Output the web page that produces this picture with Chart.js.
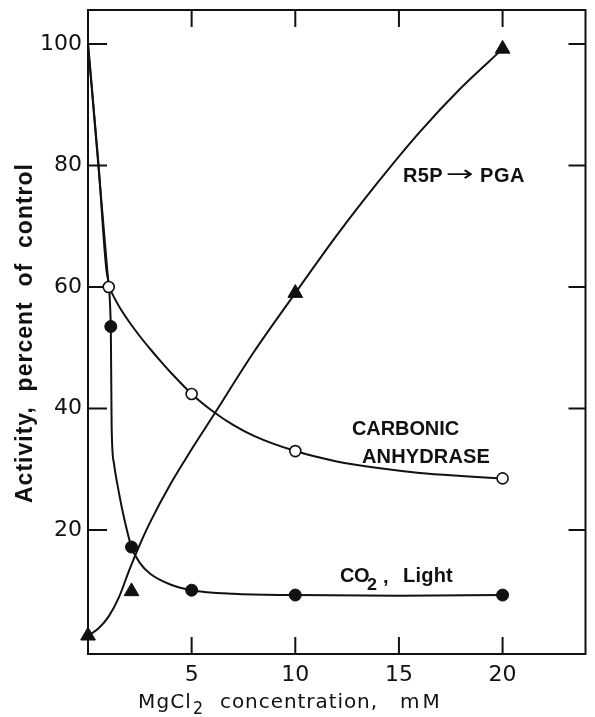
<!DOCTYPE html>
<html><head><meta charset="utf-8">
<script src="https://cdn.jsdelivr.net/npm/chart.js@4.4.1/dist/chart.umd.min.js"></script>
<style>html,body{margin:0;padding:0;background:#fff}#wrap{width:595px;height:717px}</style>
</head><body><div id="wrap"><canvas id="c" width="595" height="717"></canvas></div>
<script>
// ---- data ----
const xTicks = [5, 10, 15, 20];
const yTicks = [20, 40, 60, 80, 100];

// measured points (markers)
const caX  = [1, 5, 10, 20];          // carbonic anhydrase, open circles
const caY  = [60, 42.4, 33, 28.5];
const co2X = [1.1, 2.1, 5, 10, 20];   // CO2, light, filled circles
const co2Y = [53.5, 17.2, 10.1, 9.3, 9.3];
const r5pX = [0, 2.1, 10, 20];        // R5P -> PGA, triangles
const r5pY = [2.6, 9.9, 59, 99.2];

// drawn curves
const caTopX    = [0, 1];
const caTopY    = [100, 60];
const caCurveX  = [1, 1.5, 2, 2.5, 3, 3.5, 4, 5, 6, 7, 8, 10, 12, 14, 16, 18, 20];
const caCurveY  = [60, 56.8, 54.2, 51.9, 49.8, 47.8, 45.9, 42.4, 39.6, 37.3, 35.5, 33, 31.3, 30.2, 29.4, 28.9, 28.5];
const co2CurveX = [0, 0.5, 0.9, 1.1, 1.14, 1.25, 1.5, 1.7, 2.1, 2.5, 3, 4, 5, 7, 10, 15, 20];
const co2CurveY = [100, 80.5, 62.5, 53.5, 37, 31, 26, 22.6, 17.2, 14.6, 12.8, 11, 10.1, 9.5, 9.3, 9.2, 9.3];
const r5pCurveX = [0, 0.5, 1, 1.5, 2, 2.5, 3, 4, 5, 6, 8, 10, 12, 14, 16, 18, 20];
const r5pCurveY = [2.6, 3.8, 5.8, 9.0, 13.5, 17.6, 21.3, 27.7, 33.3, 38.6, 49.3, 59, 68.5, 77.3, 85.5, 92.8, 99.2];

// ---- chart ----
const black = '#111';
const pts = (xs, ys) => xs.map((x, i) => ({x, y: ys[i]}));
const curve = (xs, ys) => ({type: 'line', data: pts(xs, ys), borderColor: black, borderWidth: 2,
  pointRadius: 0, cubicInterpolationMode: 'monotone', fill: false, order: 2, clip: false});

function txt(ctx, s, x, y, font, w, align) {
  ctx.save();
  ctx.font = font; ctx.fillStyle = black;
  ctx.textAlign = align || 'left'; ctx.textBaseline = 'alphabetic';
  if ('letterSpacing' in ctx) ctx.letterSpacing = '0px';
  const m = ctx.measureText(s).width;
  if (w && 'letterSpacing' in ctx && s.length > 1) ctx.letterSpacing = ((w - m) / s.length) + 'px';
  if (w && s.length === 1) { ctx.translate(x, y); ctx.scale(w / m, 1); ctx.fillText(s, 0, 0); }
  else ctx.fillText(s, x, y);
  ctx.restore();
}

const frame = {
  id: 'frame',
  beforeDatasetsDraw(chart) {
    const {ctx, chartArea: a, scales: {x, y}} = chart;
    ctx.save();
    ctx.strokeStyle = black; ctx.lineWidth = 2;
    ctx.strokeRect(a.left, a.top, a.right - a.left, a.bottom - a.top);
    ctx.beginPath();
    yTicks.forEach(v => { const p = y.getPixelForValue(v);
      ctx.moveTo(a.left, p); ctx.lineTo(a.left + 19, p);
      ctx.moveTo(a.right, p); ctx.lineTo(a.right - 17, p); });
    xTicks.forEach(v => { const p = x.getPixelForValue(v);
      ctx.moveTo(p, a.bottom); ctx.lineTo(p, a.bottom - 17);
      ctx.moveTo(p, a.top); ctx.lineTo(p, a.top + 17); });
    ctx.stroke();
    ctx.restore();
  },
  afterDraw(chart) {
    const ctx = chart.ctx;
    const bold = "bold 20px 'Liberation Sans', Arial, sans-serif";
    // y title
    ctx.save();
    ctx.translate(26, 333); ctx.rotate(-Math.PI / 2);
    ctx.font = "bold 23px 'Liberation Sans', Arial, sans-serif";
    ctx.fillStyle = black; ctx.textAlign = 'center'; ctx.textBaseline = 'middle';
    const yt = 'Activity,  percent  of  control';
    if ('letterSpacing' in ctx) ctx.letterSpacing = '0px';
    const m = ctx.measureText(yt).width;
    if ('letterSpacing' in ctx) ctx.letterSpacing = ((340 - m) / yt.length) + 'px';
    ctx.fillText(yt, 0, 0);
    ctx.restore();
    // x title
    const reg = "20px 'DejaVu Sans', sans-serif";
    txt(ctx, 'MgCl', 138, 708, reg, 54);
    txt(ctx, '2', 193, 714, "17px 'DejaVu Sans', sans-serif", 10);
    txt(ctx, 'concentration,', 220, 708, reg, 158);
    txt(ctx, 'mM', 400, 708, reg, 43);
    // annotations
    txt(ctx, 'R5P', 403, 182, bold, 40);
    txt(ctx, '\u2192', 446, 181, "22px 'DejaVu Sans', sans-serif", 28);
    txt(ctx, 'PGA', 480, 182, bold, 45);
    txt(ctx, 'CARBONIC', 352, 435, bold, 107);
    txt(ctx, 'ANHYDRASE', 362, 463, bold, 128);
    txt(ctx, 'CO', 340, 582, bold, 29);
    txt(ctx, '2', 367, 590, "bold 17px 'Liberation Sans', Arial, sans-serif", 10);
    txt(ctx, ',', 383, 583, bold);
    txt(ctx, 'Light', 403, 582, bold, 50);
  }
};

new Chart(document.getElementById('c'), {
  data: {
    datasets: [
      {type: 'scatter', data: pts(caX, caY), pointStyle: 'circle', pointRadius: 5.5,
        pointBackgroundColor: '#fff', pointBorderColor: black, pointBorderWidth: 1.6, order: 0, clip: false},
      {type: 'scatter', data: pts(co2X, co2Y), pointStyle: 'circle', pointRadius: 6,
        pointBackgroundColor: black, pointBorderColor: black, pointBorderWidth: 1, order: 0, clip: false},
      {type: 'scatter', data: pts(r5pX, r5pY), pointStyle: 'triangle', pointRadius: 8.5,
        pointBackgroundColor: black, pointBorderColor: black, pointBorderWidth: 1, order: 0, clip: false},
      curve(caTopX, caTopY),
      curve(caCurveX, caCurveY),
      curve(co2CurveX, co2CurveY),
      curve(r5pCurveX, r5pCurveY)
    ]
  },
  options: {
    responsive: false, animation: false, devicePixelRatio: 1, events: [],
    layout: {padding: {top: 10, right: 8, left: 0, bottom: 0}},
    plugins: {legend: {display: false}, tooltip: {enabled: false}, title: {display: false}},
    scales: {
      x: {type: 'linear', min: 0, max: 24,
        afterBuildTicks: s => { s.ticks = xTicks.map(v => ({value: v})); },
        afterFit: s => { s.height = 63; s.paddingLeft = 0; s.paddingRight = 0; },
        grid: {display: false, drawTicks: false}, border: {display: false},
        ticks: {font: {family: "'DejaVu Sans', sans-serif", size: 22}, color: black,
          padding: 8, maxRotation: 0, autoSkip: false}},
      y: {type: 'linear', min: -0.4, max: 105.6,
        afterBuildTicks: s => { s.ticks = yTicks.map(v => ({value: v})); },
        afterFit: s => { s.width = 88; s.paddingTop = 0; s.paddingBottom = 0; },
        grid: {display: false, drawTicks: false}, border: {display: false},
        ticks: {font: {family: "'DejaVu Sans', sans-serif", size: 22}, color: black,
          padding: 6, autoSkip: false}}
    }
  },
  plugins: [frame]
});
</script>
</body></html>
